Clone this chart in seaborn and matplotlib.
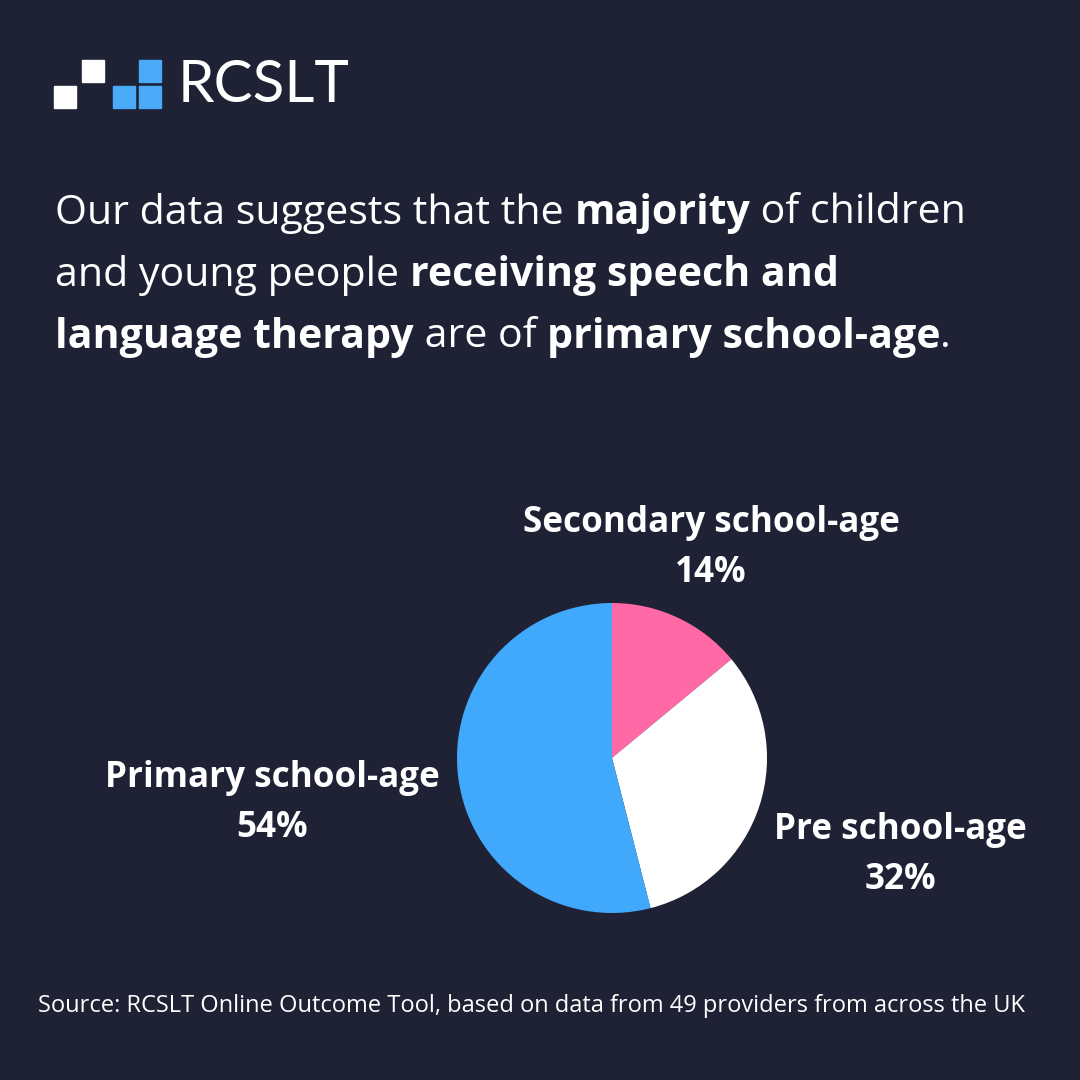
import matplotlib
matplotlib.use("Agg")
import matplotlib.pyplot as plt
from matplotlib.patches import Rectangle
import seaborn as sns

categories = ["Secondary school-age", "Pre school-age", "Primary school-age"]
shares = [14, 32, 54]
colors = ["#ff69a5", "#ffffff", "#41a9fb"]

headline = [
    [("Our data suggests that the ", "normal"), ("majority", "bold"), (" of children", "normal")],
    [("and young people ", "normal"), ("receiving speech and", "bold")],
    [("language therapy", "bold"), (" are of ", "normal"), ("primary school-age", "bold"), (".", "normal")],
]
source = "Source: RCSLT Online Outcome Tool, based on data from 49 providers from across the UK"

BG = "#1f2135"
sns.set_theme(style="white", font="Open Sans")
fig = plt.figure(figsize=(10.8, 10.8), dpi=100, facecolor=BG)
W = H = 1080.0

# logo
for x, y, c in [(54, 86, "white"), (82, 60, "white"), (113, 86, "#4aaaf8"),
                (139, 86, "#4aaaf8"), (139, 60, "#4aaaf8")]:
    fig.patches.append(Rectangle((x / W, 1 - (y + 22) / H), 22 / W, 22 / H,
                                 transform=fig.transFigure, color=c))
fig.text(178 / W, 1 - 86 / H, "RCSLT", color="white", fontsize=42, family="Lato",
         va="center", ha="left")

# headline with mixed weights
renderer = fig.canvas.get_renderer()
for i, line in enumerate(headline):
    x = 55
    y = 1 - (213 + i * 62) / H
    for txt, wt in line:
        t = fig.text(x / W, y, txt, color="white", fontsize=29.6, fontweight=wt,
                     va="center", ha="left")
        bb = t.get_window_extent(renderer=renderer)
        x += bb.width

# pie
r = 155
ax = fig.add_axes([(612 - r) / W, 1 - (758 + r) / H, 2 * r / W, 2 * r / H])
ax.pie(shares, colors=colors, startangle=90, counterclock=False,
       wedgeprops=dict(linewidth=0))
ax.set_xlim(-1, 1)
ax.set_ylim(-1, 1)
ax.set_aspect("equal")

labels_pos = [(711, 523), (900, 830), (272, 778)]
for cat, val, (x, y1) in zip(categories, shares, labels_pos):
    fig.text(x / W, 1 - y1 / H, cat, color="white", fontsize=25.2, fontweight="bold",
             ha="center", va="center")
    fig.text(x / W, 1 - (y1 + 50) / H, f"{val}%", color="white", fontsize=25.2,
             fontweight="bold", ha="center", va="center")

fig.text(531 / W, 1 - 1006 / H, source, color="white", fontsize=17,
         ha="center", va="center")

fig.savefig("out.png", dpi=100, facecolor=BG)
